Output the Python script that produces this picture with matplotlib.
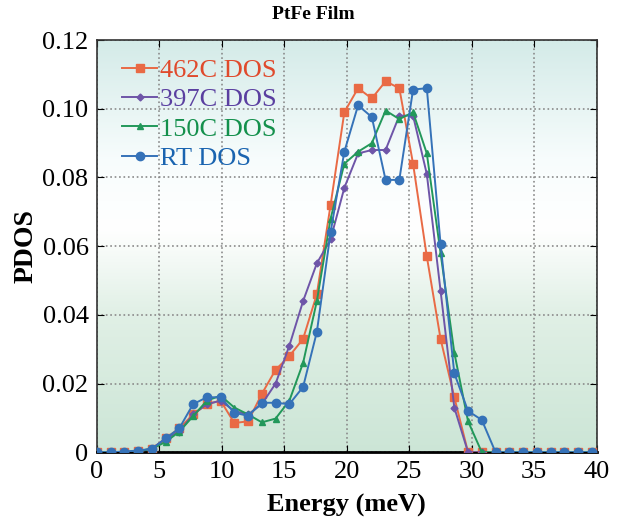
import numpy as np
import matplotlib
matplotlib.use('Agg')
import matplotlib.pyplot as plt

plt.rcParams['font.family'] = ['Liberation Serif', 'DejaVu Serif']

# energy grid (meV), one point every 1.1 meV
energy = [round(i * 1.1, 1) for i in range(37)]

dos_462 = [0, 0, 0, 0.0003, 0.001, 0.004, 0.007, 0.011, 0.014, 0.015,
           0.0085, 0.009, 0.017, 0.024, 0.028, 0.033, 0.046, 0.072, 0.099, 0.106,
           0.103, 0.108, 0.106, 0.084, 0.057, 0.033, 0.016, 0, 0, 0,
           0, 0, 0, 0, 0, 0, 0]
dos_397 = [0, 0, 0, 0.0003, 0.001, 0.004, 0.006, 0.011, 0.014, 0.015,
           0.012, 0.011, 0.014, 0.020, 0.031, 0.044, 0.055, 0.062, 0.077, 0.087,
           0.088, 0.088, 0.098, 0.098, 0.081, 0.047, 0.013, 0, 0, 0,
           0, 0, 0, 0, 0, 0, 0]
dos_150 = [0, 0, 0, 0.0003, 0.001, 0.003, 0.006, 0.0105, 0.015, 0.0165,
           0.013, 0.011, 0.0087, 0.0098, 0.015, 0.026, 0.044, 0.068, 0.084, 0.0875,
           0.090, 0.0995, 0.097, 0.099, 0.087, 0.058, 0.029, 0.009, 0, 0,
           0, 0, 0, 0, 0, 0, 0]
dos_rt = [0, 0, 0.0002, 0.0005, 0.001, 0.004, 0.007, 0.014, 0.016, 0.016,
          0.0115, 0.0106, 0.0144, 0.0144, 0.014, 0.019, 0.035, 0.064, 0.0875, 0.101,
          0.0976, 0.0793, 0.0793, 0.1056, 0.106, 0.0606, 0.023, 0.012, 0.0094, 0,
          0, 0, 0, 0, 0, 0, 0]

labels = ['462C DOS', '397C DOS', '150C DOS', 'RT DOS']
line_colors = ['#e96a45', '#6e55a8', '#22985a', '#3572b8']
text_colors = ['#e04a2c', '#5a3fa0', '#14904c', '#1a64b0']
markers = ['s', 'D', '^', 'o']
msizes = [5.5, 3.5, 5, 6]

fig = plt.figure(figsize=(6.21, 5.21), dpi=100)
ax = fig.add_axes([0.156, 0.132, 0.805, 0.791])

# soft background gradient
yy = np.linspace(0, 0.12, 300)
stops = [0.0, 0.04, 0.065, 0.085, 0.12]
cols = np.array([[0.80, 0.90, 0.84], [0.88, 0.94, 0.90], [1, 1, 1],
                 [0.97, 0.99, 0.99], [0.83, 0.92, 0.91]])
grad = np.stack([np.interp(yy, stops, cols[:, k]) for k in range(3)], axis=1)
ax.imshow(grad[::-1, None, :], extent=[0, 40, 0, 0.12], aspect='auto', zorder=0)

series = [dos_462, dos_397, dos_150, dos_rt]
for s, lab, c, m, ms in zip(series, labels, line_colors, markers, msizes):
    ax.plot(energy, s, color=c, marker=m, markersize=ms, linewidth=1.4,
            label=lab, zorder=3)

ax.set_xlim(0, 40)
ax.set_ylim(0, 0.12)
ax.set_xticks(range(0, 41, 5))
ax.set_yticks([0, 0.02, 0.04, 0.06, 0.08, 0.10, 0.12])
ax.set_yticklabels(['0', '0.02', '0.04', '0.06', '0.08', '0.10', '0.12'])
ax.grid(True, color='#8a8a8a', linestyle=':', linewidth=1.2, zorder=1)
ax.tick_params(direction='in', top=True, right=True, labelsize=19, length=5, pad=6)
for sp in ax.spines.values():
    sp.set_color('#333333')
    sp.set_linewidth(1.2)
ax.spines['bottom'].set_linewidth(2)
ax.spines['bottom'].set_color('black')

ax.set_xlabel('Energy (meV)', fontsize=19, fontweight='bold', labelpad=8)
ax.set_ylabel('PDOS', fontsize=20, fontweight='bold', labelpad=3)
fig.text(0.505, 0.972, 'PtFe Film', fontsize=14, fontweight='bold',
         ha='center', va='center')

leg = ax.legend(loc='upper left', frameon=False, fontsize=19, handlelength=1.35,
                handletextpad=0.1, labelspacing=0.22, borderaxespad=0,
                borderpad=0, bbox_to_anchor=(0.05, 0.955))
for t, c in zip(leg.get_texts(), text_colors):
    t.set_color(c)

fig.savefig('out.png', dpi=100)
